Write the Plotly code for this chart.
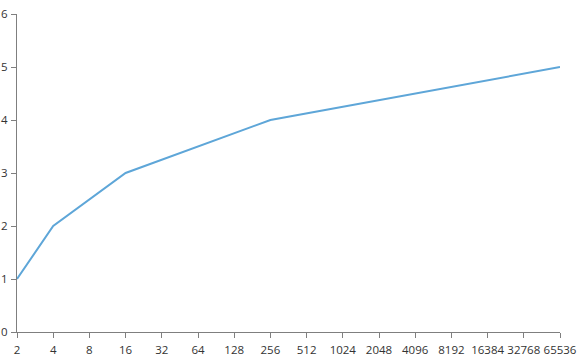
import math
import plotly.graph_objects as go

x_vals = [2, 4, 16, 256, 65536]
y_vals = [1, 2, 3, 4, 5]
x_ticks = [2 ** i for i in range(1, 17)]
y_ticks = [0, 1, 2, 3, 4, 5, 6]

fig = go.Figure()
fig.add_trace(go.Scatter(x=x_vals, y=y_vals, mode="lines",
                         line=dict(color="#5ea6d8", width=2), cliponaxis=False))

axis_common = dict(showgrid=False, zeroline=False, showline=True, linecolor="#7f7f7f",
                   linewidth=1, ticks="outside", ticklen=5, tickcolor="#7f7f7f",
                   automargin=False,
                   tickfont=dict(family="Open Sans", size=11.5, color="#333333"))

fig.update_layout(
    width=579, height=360,
    margin=dict(l=17, r=19, t=14, b=28),
    paper_bgcolor="white", plot_bgcolor="white",
    showlegend=False,
    xaxis=dict(type="log", range=[math.log10(2) - 1e-6, math.log10(65536) + 1e-6],
               tickmode="array", tickvals=x_ticks, ticktext=[str(v) for v in x_ticks],
               tickangle=0, ticklabelstandoff=2, **axis_common),
    yaxis=dict(range=[0, 6], tickmode="array", tickvals=y_ticks, ticklabelstandoff=1,
               **axis_common),
)
fig.write_html("out.html")
